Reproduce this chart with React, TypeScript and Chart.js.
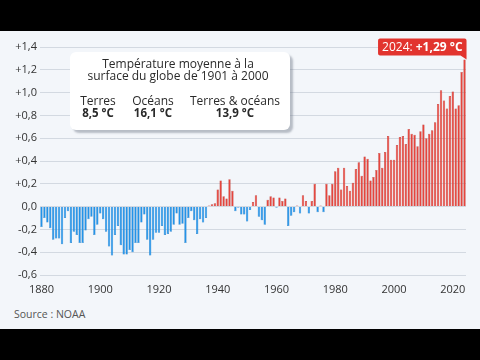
import React, { useEffect, useRef } from "react";
import { Chart, registerables } from "chart.js";

Chart.register(...registerables);

// ---- Data ----
const FIRST_YEAR = 1880;
const anomalies = [
  -0.18, -0.10, -0.14, -0.19, -0.29, -0.28, -0.28, -0.33, -0.10, -0.04,
  -0.32, -0.22, -0.25, -0.32, -0.32, -0.21, -0.11, -0.09, -0.25, -0.16,
  -0.06, -0.11, -0.22, -0.35, -0.43, -0.25, -0.17, -0.34, -0.42, -0.42,
  -0.38, -0.40, -0.32, -0.32, -0.14, -0.07, -0.29, -0.43, -0.29, -0.23,
  -0.23, -0.17, -0.25, -0.24, -0.22, -0.16, -0.06, -0.16, -0.15, -0.32,
  -0.10, -0.04, -0.12, -0.24, -0.11, -0.14, -0.10, 0.01, 0.02, 0.03,
  0.15, 0.23, 0.09, 0.07, 0.24, 0.14, -0.04, -0.01, -0.07, -0.07,
  -0.13, -0.03, 0.04, 0.10, -0.09, -0.12, -0.16, 0.06, 0.09, 0.08,
  -0.01, 0.08, 0.05, 0.07, -0.17, -0.08, -0.05, 0.01, -0.06, 0.10,
  0.05, -0.06, 0.05, 0.20, -0.05, 0.01, -0.05, 0.20, 0.10, 0.20,
  0.31, 0.34, 0.15, 0.34, 0.18, 0.14, 0.21, 0.33, 0.39, 0.27,
  0.44, 0.42, 0.23, 0.26, 0.32, 0.47, 0.34, 0.48, 0.62, 0.41,
  0.41, 0.54, 0.61, 0.62, 0.55, 0.68, 0.64, 0.63, 0.53, 0.66,
  0.72, 0.60, 0.64, 0.67, 0.74, 0.90, 1.02, 0.93, 0.86, 0.97,
  1.01, 0.86, 0.89, 1.18, 1.29,
];
const years = anomalies.map((_, i) => String(FIRST_YEAR + i));
const xTickYears = ["1880", "1900", "1920", "1940", "1960", "1980", "2000", "2020"];
const Y_MIN = -0.6;
const Y_MAX = 1.4;
const Y_STEP = 0.2;

const infoTitle = ["Température moyenne à la", "surface du globe de 1901 à 2000"];
const baselineLabels = ["Terres", "Océans", "Terres & océans"];
const baselineValues = ["8,5 °C", "16,1 °C", "13,9 °C"];
const sourceText = "Source : NOAA";

// ---- Styles ----
const RED = "#e6453d";
const RED_BORDER = "#b93029";
const BLUE = "#2393e8";
const BLUE_BORDER = "#1b78c4";
const CALLOUT_RED = "#e2342e";
const BG = "#f3f6fa";
const FONT = "'Open Sans', 'Noto Sans', sans-serif";

function fmtSigned(v: number): string {
  if (Math.abs(v) < 1e-9) return "0,0";
  const s = Math.abs(v).toFixed(v === anomalies[anomalies.length - 1] ? 2 : 1).replace(".", ",");
  return (v > 0 ? "+" : "-") + s;
}
function fmtTick(v: number): string {
  if (Math.abs(v) < 1e-9) return "0,0";
  const s = Math.abs(v).toFixed(1).replace(".", ",");
  return (v > 0 ? "+" : "-") + s;
}

const calloutPlugin = {
  id: "callout2024",
  afterDatasetsDraw(chart: any) {
    const meta = chart.getDatasetMeta(0);
    const i = anomalies.length - 1;
    const el = meta.data[i];
    if (!el) return;
    const ctx = chart.ctx as CanvasRenderingContext2D;
    const yearText = years[i] + ": ";
    const valText = fmtSigned(anomalies[i]) + " °C";
    ctx.save();
    const reg = `12px ${FONT}`;
    const bold = `bold 12px ${FONT}`;
    ctx.font = reg;
    const w1 = ctx.measureText(yearText).width;
    ctx.font = bold;
    const w2 = ctx.measureText(valText).width;
    const padX = 4;
    const h = 17;
    const right = el.x + 2;
    const bottom = el.y - 4;
    const left = right - (w1 + w2 + 2 * padX);
    const top = bottom - h;
    ctx.fillStyle = CALLOUT_RED;
    ctx.beginPath();
    const r = 2;
    ctx.moveTo(left + r, top);
    ctx.lineTo(right - r, top);
    ctx.quadraticCurveTo(right, top, right, top + r);
    ctx.lineTo(right, bottom + 4);
    ctx.lineTo(right - 6, bottom);
    ctx.lineTo(left + r, bottom);
    ctx.quadraticCurveTo(left, bottom, left, bottom - r);
    ctx.lineTo(left, top + r);
    ctx.quadraticCurveTo(left, top, left + r, top);
    ctx.closePath();
    ctx.fill();
    ctx.fillStyle = "#ffffff";
    ctx.textBaseline = "middle";
    ctx.textAlign = "left";
    ctx.font = reg;
    ctx.fillText(yearText, left + padX, top + h / 2 + 0.5);
    ctx.font = bold;
    ctx.fillText(valText, left + padX + w1, top + h / 2 + 0.5);
    ctx.restore();
  },
};

function TempChart() {
  const ref = useRef<HTMLCanvasElement | null>(null);
  useEffect(() => {
    if (!ref.current) return;
    Chart.defaults.font.family = FONT;
    const chart = new Chart(ref.current, {
      type: "bar",
      data: {
        labels: years,
        datasets: [
          {
            data: anomalies,
            backgroundColor: anomalies.map((v) => (v >= 0 ? RED : BLUE)),
            borderColor: anomalies.map((v) => (v >= 0 ? RED_BORDER : BLUE_BORDER)),
            borderWidth: 0.5,
            barPercentage: 0.8,
            categoryPercentage: 1,
          },
        ],
      },
      options: {
        responsive: false,
        animation: false,
        layout: { padding: { top: 16, right: 14, left: 0, bottom: 0 } },
        plugins: { legend: { display: false }, tooltip: { enabled: false } },
        scales: {
          x: {
            grid: { display: false, drawTicks: false },
            border: { display: false },
            afterFit: (s: any) => {
              s.height = 31;
            },
            ticks: {
              autoSkip: false,
              maxRotation: 0,
              minRotation: 0,
              padding: 8,
              color: "#333",
              font: { size: 11, family: FONT },
              callback: (_v: any, idx: number) =>
                xTickYears.includes(years[idx]) ? years[idx] : "",
            },
          },
          y: {
            min: Y_MIN,
            max: Y_MAX,
            grid: { color: "#d3d9e1", lineWidth: 1, drawTicks: false },
            border: { display: false },
            afterFit: (s: any) => {
              s.width = 40;
            },
            ticks: {
              stepSize: Y_STEP,
              padding: 3,
              color: "#333",
              font: { size: 11, family: FONT },
              callback: (v: any) => fmtTick(Number(v)),
            },
          },
        },
      },
      plugins: [calloutPlugin],
    });
    return () => chart.destroy();
  }, []);
  return (
    <canvas
      ref={ref}
      width={480}
      height={275}
      style={{ position: "absolute", left: 0, top: 0, width: 480, height: 275 }}
    />
  );
}

const colCenters = [28, 83, 165];

export default function App() {
  return (
    <div
      style={{
        position: "fixed",
        left: 0,
        top: 0,
        width: 480,
        height: 360,
        background: "#000",
        fontFamily: FONT,
      }}
    >
      <div
        style={{
          position: "absolute",
          left: 0,
          top: 31,
          width: 480,
          height: 298,
          background: BG,
          overflow: "hidden",
        }}
      >
        <TempChart />
        <div
          style={{
            position: "absolute",
            left: 70,
            top: 21,
            width: 220,
            height: 78,
            background: "#fff",
            borderRadius: 6,
            boxShadow: "3px 3px 2px rgba(110,120,135,0.45)",
            color: "#2a2a2a",
          }}
        >
          <div
            style={{
              position: "absolute",
              left: 0,
              top: 6,
              width: 216,
              textAlign: "center",
              fontSize: 12,
              lineHeight: "12px",
            }}
          >
            <div>{infoTitle[0]}</div>
            <div>{infoTitle[1]}</div>
          </div>
          {baselineLabels.map((lab, i) => (
            <div
              key={lab}
              style={{
                position: "absolute",
                left: colCenters[i],
                top: 43,
                transform: "translateX(-50%)",
                whiteSpace: "nowrap",
                textAlign: "center",
                fontSize: 12,
                lineHeight: "11.5px",
              }}
            >
              <div>{lab}</div>
              <div style={{ fontWeight: 700, fontSize: 11.5 }}>{baselineValues[i]}</div>
            </div>
          ))}
        </div>
        <div
          style={{
            position: "absolute",
            left: 14,
            top: 277,
            fontSize: 10.5,
            lineHeight: "13px",
            color: "#555",
          }}
        >
          {sourceText}
        </div>
      </div>
    </div>
  );
}
